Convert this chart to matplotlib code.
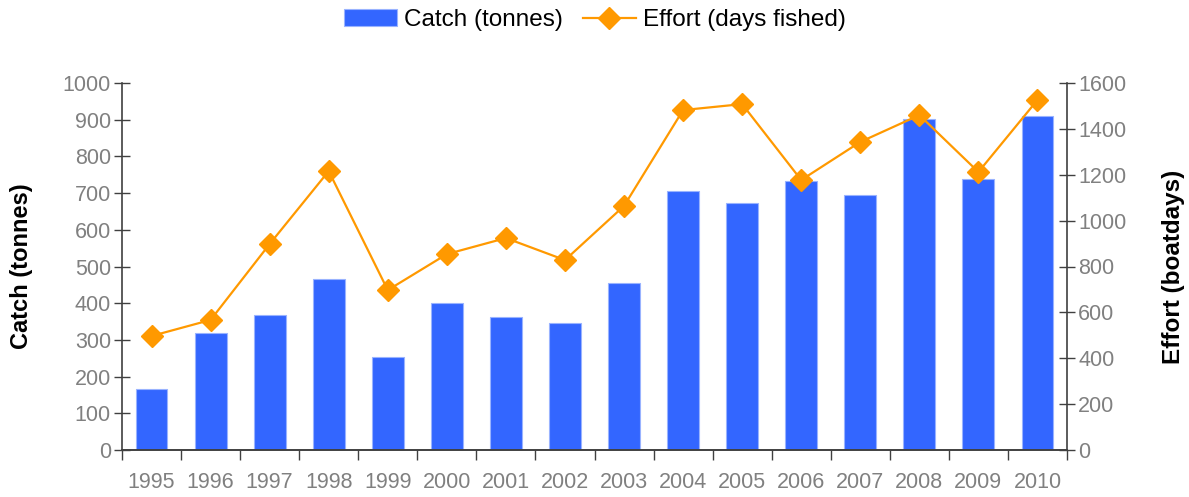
import matplotlib
matplotlib.use("Agg")
import matplotlib.pyplot as plt
import numpy as np

years = ["1995", "1996", "1997", "1998", "1999", "2000", "2001", "2002",
         "2003", "2004", "2005", "2006", "2007", "2008", "2009", "2010"]
catch = [166, 319, 368, 466, 253, 400, 362, 346, 455, 706, 673, 733, 695, 902, 738, 910]
effort = [497, 567, 898, 1216, 697, 854, 924, 828, 1064, 1482, 1508, 1177, 1343, 1460, 1212, 1526]

plt.rcParams['font.family'] = ['Liberation Sans', 'DejaVu Sans']

fig = plt.figure(figsize=(11.89, 4.97), dpi=100)
ax = fig.add_axes([122/1189, 1-450/497, (1067-122)/1189, (450-83)/497])
ax2 = ax.twinx()

x = np.arange(len(years))
bars = ax.bar(x, catch, width=0.54, color='#3366FF', edgecolor='#99B3FF', linewidth=0.8,
              label='Catch (tonnes)', zorder=2)
line, = ax2.plot(x, effort, color='#FF9900', lw=1.6, marker='D', markersize=11,
                 label='Effort (days fished)', zorder=3)

ax.set_xlim(-0.5, len(years) - 0.5)
ax.set_ylim(0, 1000)
ax2.set_ylim(0, 1600)
ax.set_yticks(np.arange(0, 1001, 100))
ax2.set_yticks(np.arange(0, 1601, 200))

ax.set_xticks(x)
ax.set_xticklabels(years)
ax.set_xticks(np.arange(-0.5, len(years), 1), minor=True)
ax.tick_params(axis='x', which='major', length=0, pad=16, labelsize=15.5, labelcolor='#808080')
ax.tick_params(axis='x', which='minor', length=7, direction='out', color='#404040', width=1)
ax.tick_params(axis='y', length=12, direction='inout', labelsize=15.5, labelcolor='#808080',
               color='#404040', width=1, pad=2)
ax2.tick_params(axis='y', length=12, direction='inout', labelsize=15.5, labelcolor='#808080',
                color='#404040', width=1, pad=2)

for a in (ax, ax2):
    a.spines['top'].set_visible(False)
    for s in ('left', 'right', 'bottom'):
        a.spines[s].set_color('#404040')
        a.spines[s].set_linewidth(1.2)
ax2.spines['left'].set_visible(False)
ax.spines['right'].set_visible(False)

ax.set_ylabel('Catch (tonnes)', fontsize=17, fontweight='bold')
ax.yaxis.set_label_coords(-(122-33)/945, 0.5)
ax2.set_ylabel('Effort (boatdays)', fontsize=17.5, fontweight='bold', rotation=90)
ax2.yaxis.set_label_coords(1 + (1162-1067)/945, 0.5)

fig.legend([bars, line], ['Catch (tonnes)', 'Effort (days fished)'], loc='center',
           bbox_to_anchor=(595/1189, 1-20/497), ncol=2, frameon=False, fontsize=17.5,
           handlelength=2.2, columnspacing=0.8, handletextpad=0.3)

fig.savefig('out.png', dpi=100)
